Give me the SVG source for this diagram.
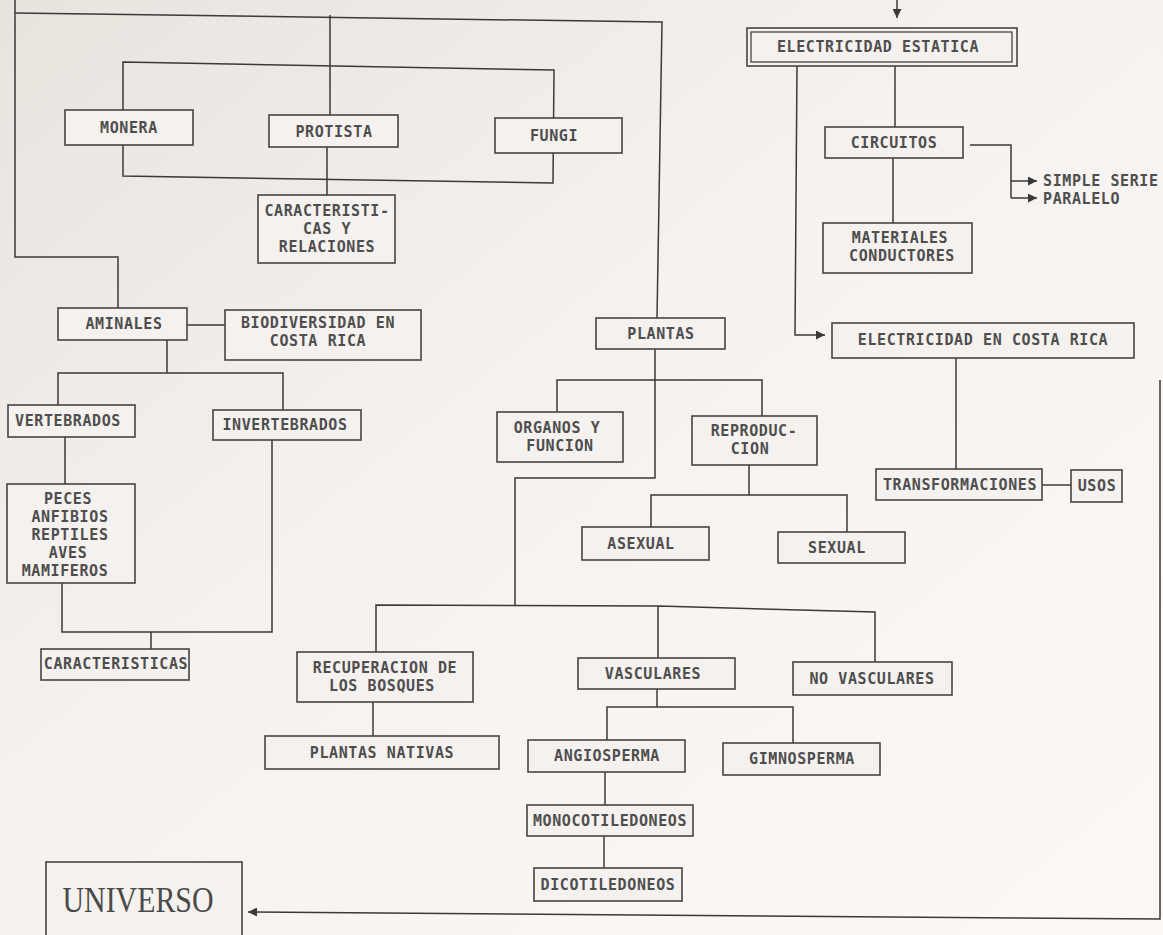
<svg xmlns="http://www.w3.org/2000/svg" width="1163" height="935" viewBox="0 0 1163 935">
<defs>
<linearGradient id="bg" x1="0" y1="0" x2="1" y2="1">
<stop offset="0" stop-color="#e9e3de"/>
<stop offset="0.45" stop-color="#f6f2ef"/>
<stop offset="1" stop-color="#fbf8f6"/>
</linearGradient>
<marker id="arr" viewBox="0 0 10 10" refX="10" refY="5" markerWidth="9" markerHeight="9" markerUnits="userSpaceOnUse" orient="auto">
<path d="M0,0 L10,5 L0,10 z" fill="#3a3a3a"/>
</marker>
<style>
.box{fill:#f5f1ee;stroke:#454545;stroke-width:1.6}
.ln{fill:none;stroke:#3a3a3a;stroke-width:1.5}
.t{font-family:"DejaVu Sans Mono","Liberation Mono",monospace;font-size:15px;letter-spacing:0.6px;font-weight:bold;fill:#4e4e4e;text-anchor:middle}
.big{font-family:"Liberation Serif","DejaVu Serif",serif;font-size:36px;fill:#4a4a4a;text-anchor:middle}
</style>
</defs>
<rect x="0" y="0" width="1163" height="935" fill="url(#bg)"/>

<g id="connectors">
<path class="ln" d="M15,0 L15,257 L118,257 L118,308"/>
<path class="ln" d="M15,13 L662,22 L657,318"/>
<path class="ln" d="M123,62 L554,70 L553,183 L123,176 Z"/>
<path class="ln" d="M330,15 L330,115"/>
<path class="ln" d="M327,147 L327,195"/>
<path class="ln" d="M187,325 L225,325"/>
<path class="ln" d="M167,340 L167,373 M58,405 L58,373 L283,373 L283,410"/>
<path class="ln" d="M65,437 L65,484"/>
<path class="ln" d="M62,583 L62,632 L272,632 L272,440 M151,632 L151,649"/>
<path class="ln" d="M655,349 L655,478 L515,478 L515,605"/>
<path class="ln" d="M557,412 L557,380 L762,380 L762,416"/>
<path class="ln" d="M749,465 L749,495 M651,527 L651,495 L847,495 L847,532"/>
<path class="ln" d="M376,652 L376,605 L658,606 L875,612 L875,662 M658,606 L658,658"/>
<path class="ln" d="M373,702 L373,736"/>
<path class="ln" d="M657,689 L657,707 M607,740 L607,707 L793,707 L793,743"/>
<path class="ln" d="M605,772 L605,805"/>
<path class="ln" d="M604,836 L604,868"/>
<path class="ln" d="M897,0 L897,18" marker-end="url(#arr)"/>
<path class="ln" d="M895,66 L895,127"/>
<path class="ln" d="M893,158 L893,223"/>
<path class="ln" d="M970,145 L1011,145 L1011,198"/>
<path class="ln" d="M1011,181 L1037,181" marker-end="url(#arr)"/>
<path class="ln" d="M1011,198 L1037,198" marker-end="url(#arr)"/>
<path class="ln" d="M797,66 L795,335 L825,335" marker-end="url(#arr)"/>
<path class="ln" d="M956,358 L956,469"/>
<path class="ln" d="M1042,485 L1071,485"/>
<path class="ln" d="M1160,380 L1160,919 L248,912" marker-end="url(#arr)"/>
</g>

<g id="n-monera"><rect class="box" x="65" y="110" width="128" height="35"/><text class="t" x="129" y="133">MONERA</text></g>
<g id="n-protista"><rect class="box" x="269" y="115" width="129" height="32"/><text class="t" x="334" y="137">PROTISTA</text></g>
<g id="n-fungi"><rect class="box" x="495" y="118" width="127" height="35"/><text class="t" x="554" y="141">FUNGI</text></g>
<g id="n-caract-rel"><rect class="box" x="258" y="195" width="137" height="68"/>
<text class="t" x="327" y="216">CARACTERISTI-</text><text class="t" x="327" y="234">CAS Y</text><text class="t" x="327" y="252">RELACIONES</text></g>

<g id="n-aminales"><rect class="box" x="58" y="308" width="129" height="32"/><text class="t" x="124" y="329">AMINALES</text></g>
<g id="n-biodiversidad"><rect class="box" x="225" y="310" width="196" height="50"/>
<text class="t" x="318" y="328">BIODIVERSIDAD EN</text><text class="t" x="318" y="346">COSTA RICA</text></g>
<g id="n-vertebrados"><rect class="box" x="8" y="405" width="127" height="32"/><text class="t" x="68" y="426">VERTEBRADOS</text></g>
<g id="n-invertebrados"><rect class="box" x="213" y="410" width="148" height="30"/><text class="t" x="285" y="430">INVERTEBRADOS</text></g>
<g id="n-peces"><rect class="box" x="7" y="484" width="128" height="99"/>
<text class="t" x="68" y="504">PECES</text><text class="t" x="70" y="522">ANFIBIOS</text><text class="t" x="70" y="540">REPTILES</text><text class="t" x="68" y="558">AVES</text><text class="t" x="65" y="576">MAMIFEROS</text></g>
<g id="n-caracteristicas"><rect class="box" x="41" y="649" width="148" height="31"/><text class="t" x="116" y="669">CARACTERISTICAS</text></g>

<g id="n-plantas"><rect class="box" x="596" y="318" width="129" height="31"/><text class="t" x="661" y="339">PLANTAS</text></g>
<g id="n-organos"><rect class="box" x="497" y="412" width="126" height="50"/>
<text class="t" x="557" y="433">ORGANOS Y</text><text class="t" x="560" y="451">FUNCION</text></g>
<g id="n-reproduccion"><rect class="box" x="692" y="416" width="125" height="49"/>
<text class="t" x="754" y="436">REPRODUC-</text><text class="t" x="750" y="454">CION</text></g>
<g id="n-asexual"><rect class="box" x="582" y="527" width="127" height="33"/><text class="t" x="641" y="549">ASEXUAL</text></g>
<g id="n-sexual"><rect class="box" x="778" y="532" width="127" height="31"/><text class="t" x="837" y="553">SEXUAL</text></g>

<g id="n-recuperacion"><rect class="box" x="297" y="652" width="176" height="50"/>
<text class="t" x="385" y="673">RECUPERACION DE</text><text class="t" x="382" y="691">LOS BOSQUES</text></g>
<g id="n-nativas"><rect class="box" x="265" y="736" width="234" height="33"/><text class="t" x="382" y="758">PLANTAS NATIVAS</text></g>
<g id="n-vasculares"><rect class="box" x="578" y="658" width="157" height="31"/><text class="t" x="653" y="679">VASCULARES</text></g>
<g id="n-novasculares"><rect class="box" x="793" y="662" width="159" height="33"/><text class="t" x="872" y="684">NO VASCULARES</text></g>
<g id="n-angiosperma"><rect class="box" x="528" y="740" width="157" height="32"/><text class="t" x="607" y="761">ANGIOSPERMA</text></g>
<g id="n-gimnosperma"><rect class="box" x="723" y="743" width="157" height="32"/><text class="t" x="802" y="764">GIMNOSPERMA</text></g>
<g id="n-mono"><rect class="box" x="527" y="805" width="166" height="31"/><text class="t" x="610" y="826">MONOCOTILEDONEOS</text></g>
<g id="n-dico"><rect class="box" x="534" y="868" width="148" height="33"/><text class="t" x="608" y="890">DICOTILEDONEOS</text></g>

<g id="n-estatica"><rect class="box" x="747" y="28" width="270" height="38"/><rect x="751" y="32" width="261" height="30" fill="none" stroke="#454545" stroke-width="1.3"/>
<text class="t" x="878" y="52">ELECTRICIDAD ESTATICA</text></g>
<g id="n-circuitos"><rect class="box" x="825" y="127" width="138" height="31"/><text class="t" x="894" y="148">CIRCUITOS</text></g>
<g id="n-serie"><text class="t" x="1043" y="186" style="text-anchor:start">SIMPLE SERIE</text><text class="t" x="1043" y="204" style="text-anchor:start">PARALELO</text></g>
<g id="n-materiales"><rect class="box" x="823" y="223" width="149" height="50"/>
<text class="t" x="900" y="243">MATERIALES</text><text class="t" x="902" y="261">CONDUCTORES</text></g>
<g id="n-costarica"><rect class="box" x="832" y="323" width="302" height="35"/><text class="t" x="983" y="345">ELECTRICIDAD EN COSTA RICA</text></g>
<g id="n-transformaciones"><rect class="box" x="876" y="469" width="166" height="31"/><text class="t" x="960" y="490">TRANSFORMACIONES</text></g>
<g id="n-usos"><rect class="box" x="1071" y="470" width="51" height="32"/><text class="t" x="1097" y="491">USOS</text></g>

<g id="n-universo"><rect class="box" x="46" y="862" width="196" height="80"/><text class="big" x="138" y="912" textLength="151" lengthAdjust="spacingAndGlyphs">UNIVERSO</text></g>
</svg>
